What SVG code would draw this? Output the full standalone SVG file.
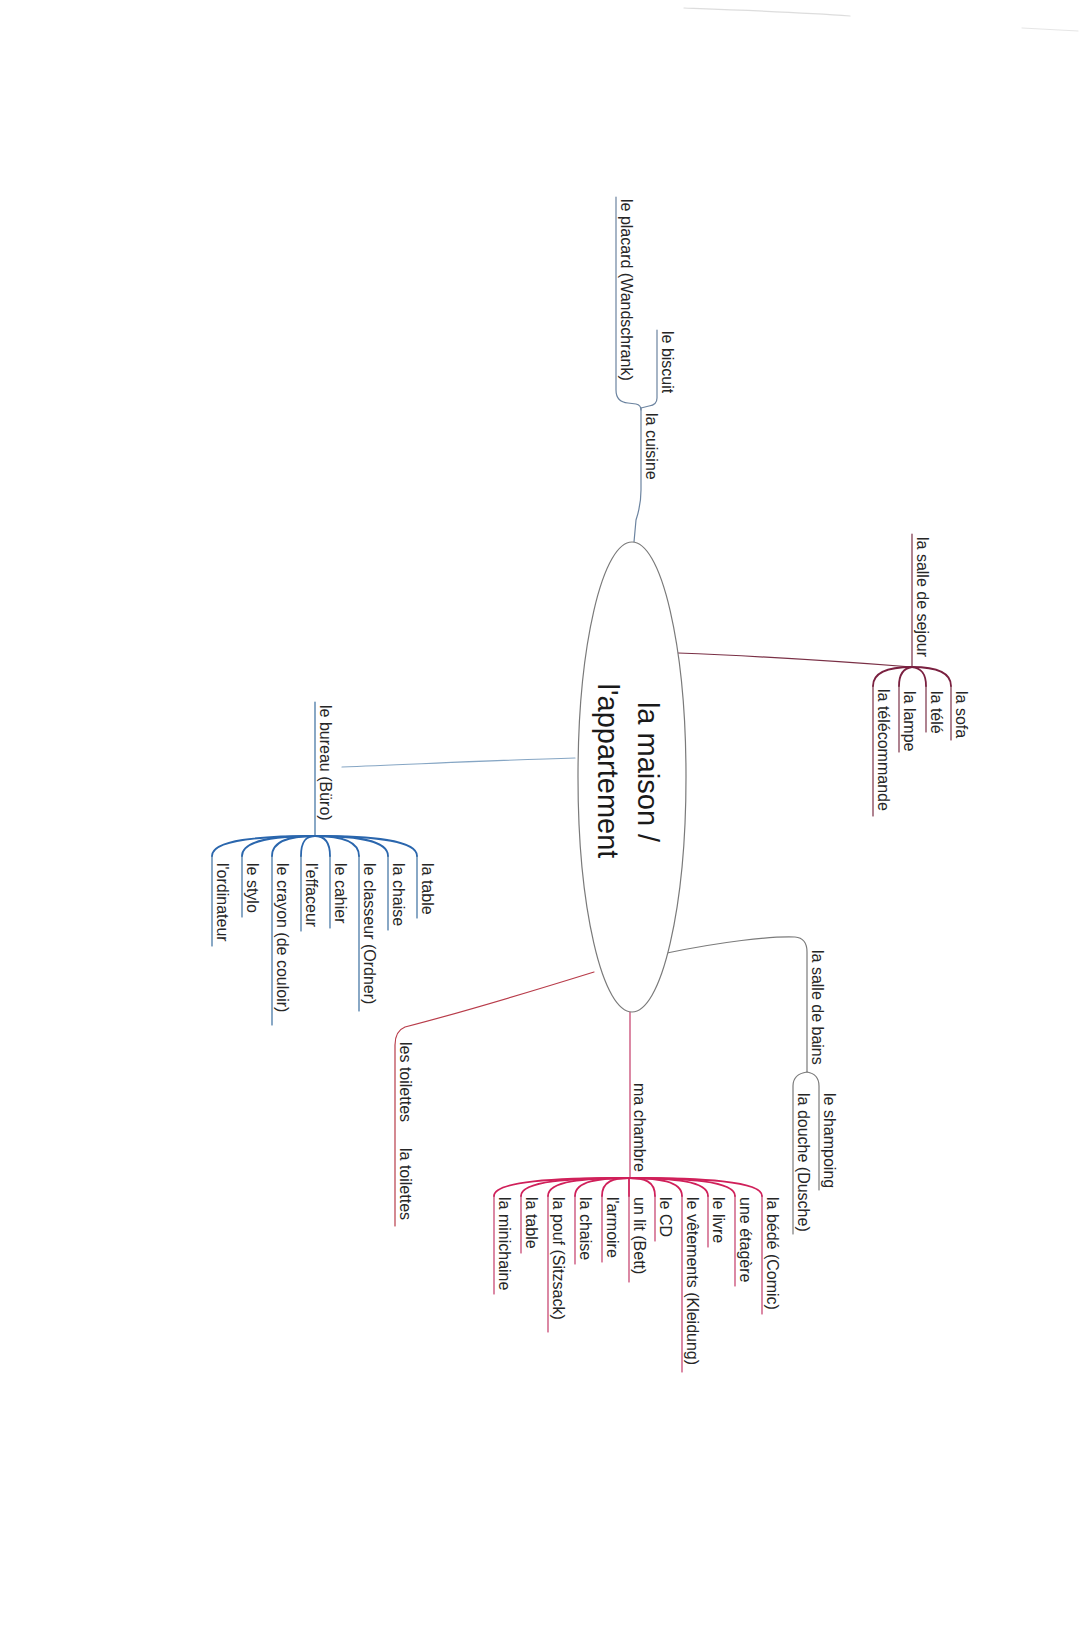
<svg xmlns="http://www.w3.org/2000/svg" width="1080" height="1625" viewBox="0 0 1080 1625">
<style>
text{font-family:"Liberation Sans",Arial,sans-serif;font-size:16px;fill:#262626}
.c{font-size:29px;fill:#1a1a1a}
path{fill:none;stroke-linecap:round}
.cu{stroke:#6c84a0;stroke-width:1.2}
.se{stroke:#7a3046;stroke-width:1.2}
.seF{stroke:#7a2040;stroke-width:1.8}
.bu{stroke:#3a6e9f;stroke-width:1.2}
.buF{stroke:#2a66ad;stroke-width:1.8}
.buC{stroke:#86a6c4;stroke-width:1.2}
.sb{stroke:#7b7b7b;stroke-width:1.2}
.mc{stroke:#c43a68;stroke-width:1.2}
.mcF{stroke:#d0205a;stroke-width:1.8}
.to{stroke:#b83c4a;stroke-width:1.2}
</style>
<rect width="1080" height="1625" fill="#ffffff"/>
<g id="scan-marks" opacity="0.5">
<path d="M684,8 C740,10 800,12 850,16" stroke="#bbbbbb" stroke-width="1.2" fill="none"/>
<path d="M1022,28 L1078,31" stroke="#cccccc" stroke-width="1" fill="none"/>
</g>
<g id="connectors">
<!-- cuisine -->
<path class="cu" d="M641,408 V490 Q641,505 636,520 L634,542"/>
<path class="cu" d="M616,197 V390 Q616,402 628,403 L636,404 Q641,405 641,410"/>
<path class="cu" d="M657,330 V398 Q657,405 649,406 L641,408"/>
<!-- sejour -->
<path class="se" d="M678,653 C760,656 860,663 912,667"/>
<path class="se" d="M912,534 V667"/>
<path class="seF" d="M912,667 C930,667 951,670 951,686"/><path class="se" d="M951,686 V740"/>
<path class="seF" d="M912,667 C920,668 926,672 926,686"/><path class="se" d="M926,686 V732"/>
<path class="seF" d="M912,667 C905,668 899,672 899,686"/><path class="se" d="M899,686 V752"/>
<path class="seF" d="M912,667 C895,667 873,670 873,686"/><path class="se" d="M873,686 V816"/>
<!-- bureau -->
<path class="buC" d="M575,758 C500,760 420,764 342,767"/>
<path class="bu" d="M315,702 V836"/>
<path class="buF" d="M315,836 C371,836 417,840 417,856"/><path class="bu" d="M417,856 V918"/>
<path class="buF" d="M315,836 C355,836 388,840 388,856"/><path class="bu" d="M388,856 V930"/>
<path class="buF" d="M315,836 C339,836 359,840 359,856"/><path class="bu" d="M359,856 V1011"/>
<path class="buF" d="M315,836 C323,836 330,840 330,856"/><path class="bu" d="M330,856 V928"/>
<path class="buF" d="M315,836 C307,836 301,840 301,856"/><path class="bu" d="M301,856 V931"/>
<path class="buF" d="M315,836 C291,836 272,840 272,856"/><path class="bu" d="M272,856 V1025"/>
<path class="buF" d="M315,836 C275,836 242,840 242,856"/><path class="bu" d="M242,856 V917"/>
<path class="buF" d="M315,836 C259,836 212,840 212,856"/><path class="bu" d="M212,856 V946"/>
<!-- salle de bains -->
<path class="sb" d="M667,953 C720,942 770,936 795,937 Q807,938 807,952 V1072"/>
<path class="sb" d="M807,1072 Q819,1074 819,1086 V1190"/>
<path class="sb" d="M807,1072 Q793,1074 793,1086 V1234"/>
<!-- ma chambre -->
<path class="mc" d="M630,1012 V1178"/>
<path class="mcF" d="M629,1178 C702,1178 762,1181 762,1196"/><path class="mc" d="M762,1196 V1314"/>
<path class="mcF" d="M629,1178 C687,1178 735,1181 735,1196"/><path class="mc" d="M735,1196 V1286"/>
<path class="mcF" d="M629,1178 C673,1178 708,1181 708,1196"/><path class="mc" d="M708,1196 V1247"/>
<path class="mcF" d="M629,1178 C658,1178 682,1181 682,1196"/><path class="mc" d="M682,1196 V1372"/>
<path class="mcF" d="M629,1178 C644,1178 655,1181 655,1196"/><path class="mc" d="M655,1196 V1241"/>
<path class="mcF" d="M629,1178 V1196"/><path class="mc" d="M629,1196 V1282"/>
<path class="mcF" d="M629,1178 C614,1178 602,1181 602,1196"/><path class="mc" d="M602,1196 V1262"/>
<path class="mcF" d="M629,1178 C599,1178 575,1181 575,1196"/><path class="mc" d="M575,1196 V1264"/>
<path class="mcF" d="M629,1178 C584,1178 548,1181 548,1196"/><path class="mc" d="M548,1196 V1332"/>
<path class="mcF" d="M629,1178 C570,1178 521,1181 521,1196"/><path class="mc" d="M521,1196 V1253"/>
<path class="mcF" d="M629,1178 C555,1178 494,1181 494,1196"/><path class="mc" d="M494,1196 V1294"/>
<!-- toilettes -->
<path class="to" d="M594,972 C520,995 440,1018 405,1027 Q395,1031 395,1045 V1226"/>
</g>
<g id="center">
<ellipse cx="632" cy="777" rx="54" ry="235" fill="#ffffff" stroke="#7a7a7a" stroke-width="1.2"/>
<text class="c" text-anchor="middle" transform="translate(638,772) rotate(90)">la maison /</text>
<text class="c" text-anchor="middle" transform="translate(598,771) rotate(90)">l'appartement</text>
</g>
<g id="cuisine">
<text transform="translate(646,413) rotate(90)">la cuisine</text>
<text transform="translate(662,331) rotate(90)">le biscuit</text>
<text transform="translate(621,199) rotate(90)">le placard (Wandschrank)</text>
</g>
<g id="sejour">
<text transform="translate(917,537) rotate(90)">la salle de sejour</text>
<text transform="translate(956,691) rotate(90)">la sofa</text>
<text transform="translate(931,691) rotate(90)">la télé</text>
<text transform="translate(904,691) rotate(90)">la lampe</text>
<text transform="translate(878,689) rotate(90)">la télécommande</text>
</g>
<g id="bureau">
<text transform="translate(320,705) rotate(90)">le bureau (Büro)</text>
<text transform="translate(422,863) rotate(90)">la table</text>
<text transform="translate(393,863) rotate(90)">la chaise</text>
<text transform="translate(364,863) rotate(90)">le classeur (Ordner)</text>
<text transform="translate(335,863) rotate(90)">le cahier</text>
<text transform="translate(306,863) rotate(90)">l'effaceur</text>
<text transform="translate(277,863) rotate(90)">le crayon (de couloir)</text>
<text transform="translate(247,863) rotate(90)">le stylo</text>
<text transform="translate(217,863) rotate(90)">l'ordinateur</text>
</g>
<g id="salle-de-bains">
<text transform="translate(812,950) rotate(90)">la salle de bains</text>
<text transform="translate(824,1093) rotate(90)">le shampoing</text>
<text transform="translate(798,1093) rotate(90)">la douche (Dusche)</text>
</g>
<g id="ma-chambre">
<text transform="translate(634,1083) rotate(90)">ma chambre</text>
<text transform="translate(767,1197) rotate(90)">la bédé (Comic)</text>
<text transform="translate(740,1197) rotate(90)">une étagère</text>
<text transform="translate(713,1197) rotate(90)">le livre</text>
<text transform="translate(687,1197) rotate(90)">le vêtements (Kleidung)</text>
<text transform="translate(660,1197) rotate(90)">le CD</text>
<text transform="translate(634,1197) rotate(90)">un lit (Bett)</text>
<text transform="translate(607,1197) rotate(90)">l'armoire</text>
<text transform="translate(580,1197) rotate(90)">la chaise</text>
<text transform="translate(553,1197) rotate(90)">la pouf (Sitzsack)</text>
<text transform="translate(526,1197) rotate(90)">la table</text>
<text transform="translate(499,1197) rotate(90)">la minichaine</text>
</g>
<g id="toilettes">
<text transform="translate(400,1042) rotate(90)">les toilettes<tspan x="106">la toilettes</tspan></text>
</g>
</svg>
